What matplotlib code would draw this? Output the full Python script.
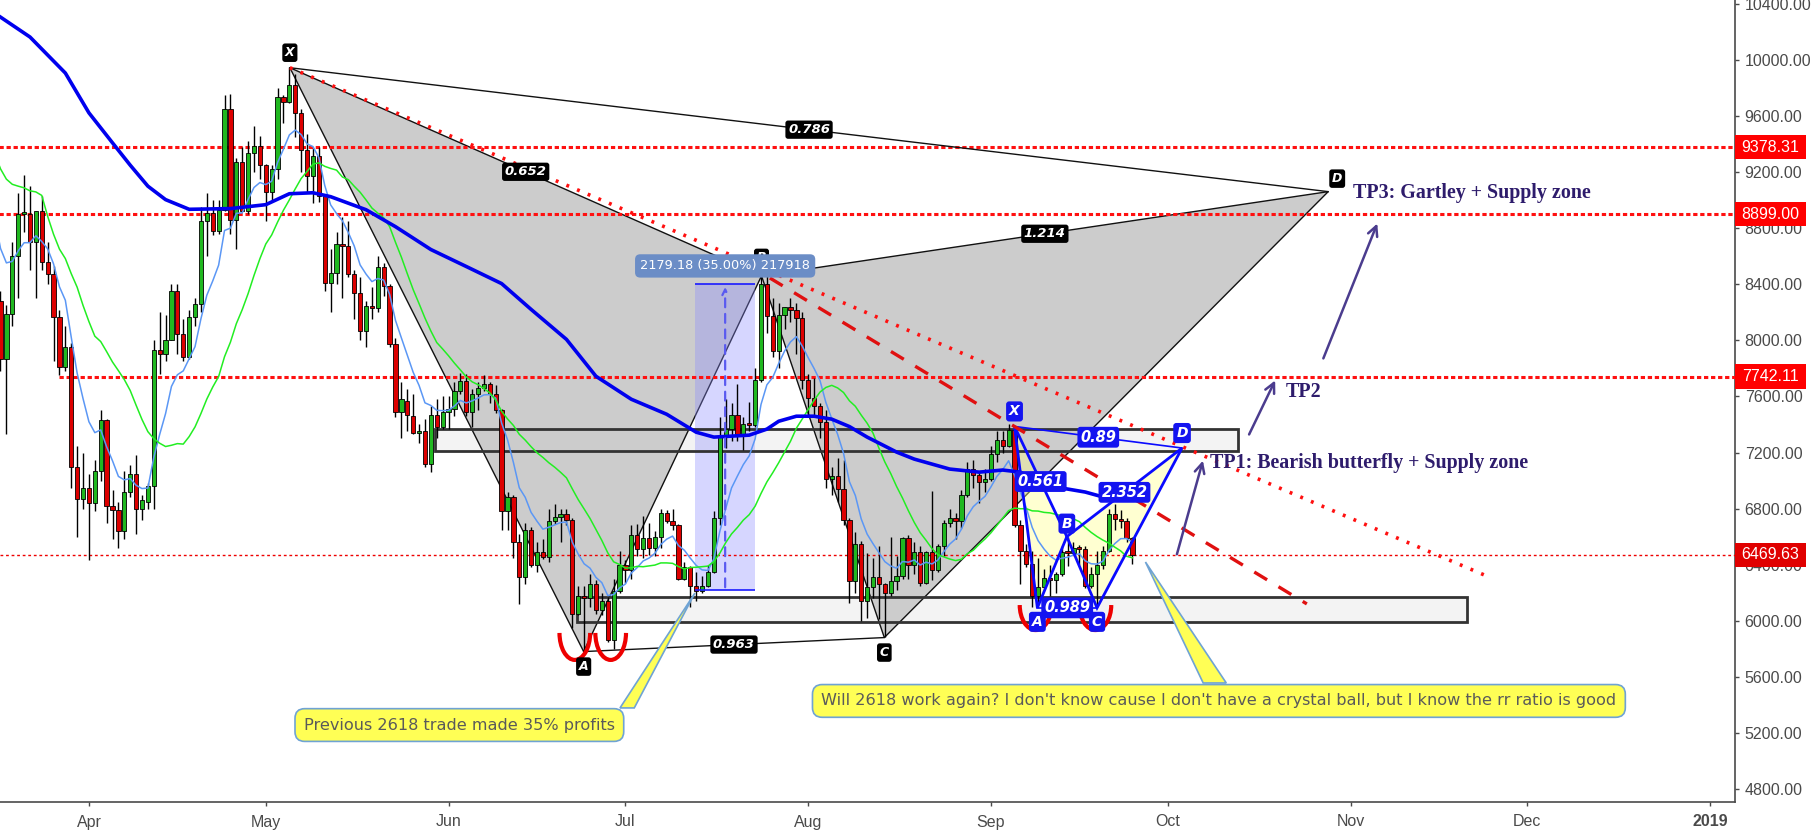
import matplotlib
matplotlib.use("Agg")
import matplotlib.pyplot as plt
import matplotlib.dates as mdates
import matplotlib.transforms as mtransforms
from matplotlib.patches import Polygon, Rectangle, Arc
import pandas as pd

# daily BTCUSD candles 2018-03-05 .. 2018-09-25
# (first days sit left of the visible window, they only feed the averages)
open_ = [
    11500, 11450, 10730, 9930, 9300, 9250, 8800, 9550, 9150, 9150, 8200, 8250, 8280, 7870,
    8190, 8600, 8900, 8900, 8700, 8920, 8560, 8470, 8170, 7810, 7950, 7100, 6870,
    # apr
    6950, 6840, 7070, 7430, 6820, 6790, 6640, 6920, 7045, 6800, 6850, 6960, 7930, 7900, 8000,
    8350, 8045, 7880, 8170, 8260, 8850, 8910, 8780, 8930, 9650, 8860, 9275, 8920, 9340, 9390,
    # may
    9250, 9060, 9220, 9735, 9700, 9820, 9620, 9355, 9170, 9315, 9030, 8410, 8480, 8690, 8670,
    8475, 8340, 8065, 8245, 8230, 8520, 8390, 7975, 7490, 7570, 7460, 7340, 7350, 7120, 7470, 7380,
    # jun
    7490, 7510, 7640, 7710, 7490, 7620, 7660, 7690, 7620, 7500, 6785, 6880, 6560, 6315, 6645,
    6395, 6490, 6455, 6715, 6740, 6760, 6720, 6050, 6180, 6165, 6265, 6080, 6140, 5860, 6210,
    # jul
    6400, 6360, 6615, 6515, 6590, 6520, 6600, 6765, 6715, 6680, 6300, 6385, 6250, 6215, 6250,
    6345, 6730, 7310, 7370, 7470, 7330, 7400, 7395, 7720, 8404, 8173, 7925, 8180, 8235, 8215, 8160,
    # aug
    7720, 7590, 7530, 7415, 7010, 7030, 6940, 6720, 6283, 6550, 6140, 6240, 6310, 6260, 6200,
    6280, 6320, 6590, 6400, 6490, 6270, 6490, 6360, 6530, 6700, 6735, 6715, 6900, 7080, 7040, 6990,
    # sep
    7010, 7190, 7290, 7250, 7360, 6680, 6500, 6405, 6180, 6240, 6305, 6290, 6330, 6490, 6480,
    6527, 6510, 6250, 6335, 6395, 6500, 6760, 6725, 6710, 6590,
]
high = [
    11700, 11460, 10900, 10100, 9400, 9500, 9750, 9900, 9500, 9350, 8400, 8600, 8350, 8250,
    8700, 9050, 9180, 9100, 8920, 9030, 8700, 8530, 8220, 8100, 7980, 7250, 7200,
    7050, 7150, 7500, 7440, 6930, 6850, 7070, 7110, 7180, 6900, 6980, 8000, 8200, 8180, 8400,
    8400, 8150, 8220, 8300, 8950, 9050, 9000, 9000, 9750, 9760, 9300, 9380, 9420, 9530, 9460,
    9260, 9250, 9800, 9750, 9950, 9900, 9650, 9470, 9370, 9380, 9040, 8650, 8770, 8880, 8850,
    8500, 8450, 8280, 8380, 8600, 8550, 8400, 8020, 7700, 7650, 7620, 7400, 7440, 7530, 7580, 7600,
    7600, 7700, 7770, 7760, 7650, 7700, 7750, 7700, 7680, 7510, 6920, 6900, 6620, 6700, 6670,
    6560, 6580, 6800, 6830, 6800, 6800, 6730, 6250, 6250, 6330, 6290, 6200, 6170, 6300, 6500,
    6430, 6680, 6690, 6750, 6700, 6640, 6800, 6790, 6800, 6690, 6420, 6390, 6350, 6320, 6400,
    6780, 7450, 7580, 7550, 7690, 7450, 7560, 7800, 8460, 8480, 8300, 8270, 8240, 8300, 8270, 8200,
    7760, 7730, 7550, 7500, 7100, 7160, 7150, 6730, 6630, 6570, 6480, 6450, 6530, 6270, 6600,
    6460, 6600, 6610, 6560, 6530, 6500, 6925, 6550, 6720, 6800, 6770, 6930, 7130, 7150, 7060, 7080,
    7250, 7350, 7350, 7400, 7390, 6720, 6550, 6500, 6450, 6370, 6400, 6350, 6530, 6600, 6560,
    6540, 6530, 6380, 6500, 6530, 6800, 6830, 6790, 6730, 6600,
]
low = [
    11380, 10600, 9480, 9050, 8350, 8700, 8500, 8800, 8850, 8000, 7700, 8000, 7780, 7330,
    8100, 8300, 8770, 8500, 8300, 8500, 8400, 7850, 7750, 7780, 6950, 6600, 6800,
    6430, 6780, 7000, 6700, 6580, 6520, 6580, 6880, 6620, 6720, 6800, 6800, 7760, 7850, 8000,
    7900, 7850, 7870, 8100, 8200, 8600, 8750, 8760, 8920, 8760, 8650, 8920, 8900, 9200, 9150,
    8850, 9000, 9150, 9550, 9690, 9450, 9200, 9050, 8980, 8990, 8350, 8200, 8400, 8300, 8450,
    8150, 8000, 7950, 8150, 8200, 8320, 7950, 7450, 7300, 7350, 7330, 7270, 7100, 7060, 7300, 7370,
    7370, 7460, 7620, 7460, 7380, 7500, 7640, 7550, 7480, 6650, 6650, 6450, 6120, 6260, 6380,
    6350, 6440, 6420, 6690, 6560, 6680, 5950, 6040, 5780, 6100, 6050, 6040, 5850, 5800, 6200,
    6270, 6300, 6460, 6450, 6470, 6460, 6520, 6700, 6650, 6290, 6290, 6100, 6140, 6200, 6240,
    6340, 6680, 7230, 7280, 7280, 7220, 7350, 7380, 7700, 8050, 7880, 7800, 8080, 8130, 7900, 7650,
    7460, 7470, 7300, 6950, 6900, 6850, 6680, 6130, 6200, 6000, 6020, 6160, 6010, 5885, 6180,
    6220, 6300, 6300, 6330, 6250, 6260, 6290, 6350, 6460, 6670, 6580, 6660, 6880, 6950, 6840, 6920,
    7000, 7130, 7200, 7240, 6670, 6260, 6380, 6100, 6130, 6230, 6180, 6200, 6320, 6390, 6470,
    6400, 6230, 6230, 6100, 6370, 6490, 6650, 6660, 6560, 6405,
]
close_ = [
    11450, 10730, 9930, 9300, 9250, 8800, 9550, 9150, 9150, 8200, 8250, 8280, 7870, 8190,
    8600, 8900, 8900, 8700, 8920, 8560, 8470, 8170, 7810, 7950, 7100, 6870, 6950,
    6840, 7070, 7430, 6820, 6790, 6640, 6920, 7045, 6800, 6860, 6960, 7930, 7900, 8000, 8350,
    8045, 7880, 8170, 8260, 8850, 8910, 8780, 8930, 9650, 8860, 9275, 8920, 9340, 9390, 9250,
    9060, 9220, 9735, 9700, 9820, 9620, 9355, 9170, 9315, 9030, 8410, 8480, 8690, 8670, 8475,
    8340, 8065, 8245, 8230, 8520, 8390, 7975, 7490, 7580, 7470, 7340, 7350, 7120, 7470, 7380, 7490,
    7510, 7640, 7710, 7490, 7620, 7660, 7690, 7620, 7500, 6785, 6880, 6560, 6315, 6645, 6395,
    6490, 6455, 6715, 6740, 6760, 6720, 6050, 6180, 6165, 6265, 6080, 6140, 5860, 6210, 6400,
    6360, 6615, 6515, 6590, 6520, 6600, 6765, 6715, 6680, 6300, 6385, 6250, 6215, 6250, 6345,
    6730, 7310, 7370, 7470, 7330, 7400, 7395, 7720, 8404, 8173, 7925, 8180, 8235, 8215, 8160, 7720,
    7590, 7530, 7415, 7010, 7030, 6940, 6720, 6283, 6550, 6140, 6240, 6310, 6260, 6200, 6280,
    6320, 6590, 6400, 6490, 6270, 6490, 6360, 6530, 6700, 6735, 6715, 6900, 7080, 7040, 6990, 7010,
    7190, 7290, 7250, 7360, 6680, 6500, 6405, 6180, 6240, 6305, 6290, 6330, 6490, 6480, 6520,
    6510, 6250, 6335, 6395, 6500, 6760, 6725, 6710, 6590, 6469.63,
]

# slow moving average
slow_ma_dates = ["2018-03-17", "2018-03-22", "2018-03-28", "2018-04-01", "2018-04-05", "2018-04-08",
                 "2018-04-11", "2018-04-14", "2018-04-18", "2018-04-25", "2018-05-01", "2018-05-05",
                 "2018-05-09", "2018-05-12", "2018-05-18", "2018-05-23", "2018-05-29", "2018-06-04",
                 "2018-06-10", "2018-06-15", "2018-06-21", "2018-06-26", "2018-07-02", "2018-07-08",
                 "2018-07-13", "2018-07-16", "2018-07-22", "2018-07-25", "2018-07-27", "2018-07-30",
                 "2018-08-02", "2018-08-05", "2018-08-08", "2018-08-11", "2018-08-14", "2018-08-16",
                 "2018-08-19", "2018-08-25", "2018-08-30", "2018-09-03", "2018-09-06", "2018-09-08",
                 "2018-09-11", "2018-09-17", "2018-09-20", "2018-09-25"]
slow_ma_vals = [10306, 10164, 9907, 9623, 9409, 9250, 9100, 9004, 8935, 8940, 8968, 9046,
                9053, 9025, 8932, 8811, 8648, 8527, 8405, 8221, 8007, 7744, 7580, 7473,
                7345, 7310, 7324, 7367, 7423, 7459, 7459, 7438, 7385, 7310, 7246, 7203,
                7153, 7082, 7060, 7075, 7060, 7011, 6961, 6918, 6883, 6868]

levels = [9378.31, 8899.00, 7742.11]
level_starts = ["2018-03-10", "2018-03-10", "2018-03-27"]
last_price = 6469.63

# gartley (black) and butterfly (blue) pivots
g_names = ["X", "A", "B", "C", "D"]
g_dates = ["2018-05-05 02:00", "2018-06-23 22:00", "2018-07-24 02:00", "2018-08-13 22:00", "2018-10-28 05:00"]
g_prices = [9945, 5780, 8460, 5880, 9061]
g_ratios = [("X", "B", "0.652"), ("A", "C", "0.963"), ("B", "D", "1.214"), ("X", "D", "0.786")]
b_dates = ["2018-09-05 00:00", "2018-09-08 21:00", "2018-09-13 21:00", "2018-09-19 00:00", "2018-10-03 10:00"]
b_prices = [7386, 6092, 6600, 6092, 7232]
b_ratios = [("X", "B", "0.561"), ("A", "C", "0.989"), ("B", "D", "2.352"), ("X", "D", "0.89")]

fig = plt.figure(figsize=(18.14, 8.35), dpi=100)
ax = fig.add_axes([0, 33 / 835, 1735 / 1814, 802 / 835])
d = mdates.datestr2num

xs = mdates.date2num(pd.date_range("2018-03-05", periods=len(close_), freq="D"))
cs = pd.Series(close_)
ma_fast = cs.ewm(span=8, adjust=False).mean()
ma_20 = cs.rolling(20, min_periods=1).mean()

# candles
cols = ["#20b820" if c >= o else "#dd0000" for o, c in zip(open_, close_)]
ax.vlines(xs, low, high, color="black", lw=1, zorder=3)
ax.bar(xs, [max(abs(c - o), 14) for o, c in zip(open_, close_)],
       bottom=[min(o, c) for o, c in zip(open_, close_)],
       width=0.72, color=cols, edgecolor="black", lw=0.6, zorder=3.1)

ax.plot(xs, ma_fast, color="#5b97f5", lw=1.1, zorder=4)
ax.plot(xs, ma_20, color="#22ee22", lw=1.1, zorder=4)
ax.plot(d(slow_ma_dates), slow_ma_vals, color="#0000ee", lw=2.6, zorder=4.1)

view_lo, view_hi = d("2018-03-16 22:00"), d("2019-01-05 05:00")

# horizontal targets and last price
for lv, st in zip(levels, level_starts):
    ax.hlines(lv, d(st), view_hi, color="#ff1010", lw=2.2, ls=(0, (1.4, 0.9)), zorder=2.6)
ax.axhline(last_price, color="#ee0000", lw=1, ls=(0, (2, 2)), zorder=2.6)

# supply / demand boxes
for x0, x1, y0, y1 in [("2018-05-29 16:00", "2018-10-12 22:00", 7211, 7368),
                       ("2018-06-22 17:00", "2018-11-20 20:00", 5989, 6172)]:
    ax.add_patch(Rectangle((d(x0), y0), d(x1) - d(x0), y1 - y0, fc="#f3f3f3", ec="none", zorder=0.5))
    ax.add_patch(Rectangle((d(x0), y0), d(x1) - d(x0), y1 - y0, fc="none", ec="#333333", lw=2, zorder=2.2))

# gartley
gx = d(g_dates)
gp = dict(zip(g_names, zip(gx, g_prices)))
for tri in (["X", "A", "B"], ["B", "C", "D"]):
    ax.add_patch(Polygon([gp[k] for k in tri], closed=True, fc="#cccccc", ec="#111111", lw=1, zorder=1))
for a, b in [("X", "D"), ("A", "C")]:
    ax.plot([gp[a][0], gp[b][0]], [gp[a][1], gp[b][1]], color="#111111", lw=1, zorder=5)
for a, b, t in g_ratios:
    ax.text((gp[a][0] + gp[b][0]) / 2, (gp[a][1] + gp[b][1]) / 2, t, color="white", fontsize=9.5,
            fontweight="bold", fontstyle="italic", ha="center", va="center", zorder=7,
            bbox=dict(boxstyle="round,pad=0.2", fc="black", ec="none"))
g_off = {"X": (0, 15), "A": (0, -15), "B": (0, 18), "C": (0, -15), "D": (9, 13)}
for k in g_names:
    ax.annotate(k, gp[k], xytext=g_off[k], textcoords="offset pixels", color="white", fontsize=9,
                fontweight="bold", fontstyle="italic", ha="center", va="center", zorder=7,
                bbox=dict(boxstyle="round,pad=0.22", fc="black", ec="none"))

# butterfly
bx = d(b_dates)
bp = dict(zip(g_names, zip(bx, b_prices)))
for tri in (["X", "A", "B"], ["B", "C", "D"]):
    ax.add_patch(Polygon([bp[k] for k in tri], closed=True, fc=(1, 1, 0.55), alpha=0.4, ec="none", zorder=1.9))
    ax.add_patch(Polygon([bp[k] for k in tri], closed=True, fc="none", ec="#0a0aff", lw=2, zorder=5))
for a, b in [("X", "D"), ("A", "C")]:
    ax.plot([bp[a][0], bp[b][0]], [bp[a][1], bp[b][1]], color="#0a0aff", lw=1.2, zorder=5)
for a, b, t in b_ratios:
    ax.text((bp[a][0] + bp[b][0]) / 2, (bp[a][1] + bp[b][1]) / 2, t, color="white", fontsize=10.5,
            fontweight="bold", fontstyle="italic", ha="center", va="center", zorder=7,
            bbox=dict(boxstyle="round,pad=0.2", fc="#1414f0", ec="none"))
b_off = {"X": (0, 15), "A": (0, -14), "B": (0, 13), "C": (0, -14), "D": (0, 15)}
for k in g_names:
    ax.annotate(k, bp[k], xytext=b_off[k], textcoords="offset pixels", color="white", fontsize=10,
                fontweight="bold", fontstyle="italic", ha="center", va="center", zorder=7,
                bbox=dict(boxstyle="round,pad=0.22", fc="#1414f0", ec="none"))

# trend lines
ax.plot([gp["X"][0], d("2018-11-23 17:00")], [gp["X"][1], 6326], color="#ff1010", lw=2.6,
        ls=(0, (0.8, 2.4)), zorder=5.2)
ax.plot([d("2018-07-25 12:00"), d("2018-10-24 14:00")], [8445, 6120], color="#e01010", lw=2.4,
        ls=(0, (4.5, 4)), zorder=5.2)

# double bottoms
for cx, cy, w, h in [("2018-06-22 10:00", 5913, 5.2, 385), ("2018-06-28 12:00", 5913, 5.2, 385),
                     ("2018-09-08 14:00", 6112, 5.4, 357), ("2018-09-18 17:00", 6112, 5.4, 357)]:
    ax.add_patch(Arc((d(cx), cy), w, h, theta1=180, theta2=360, color="#ee0000", lw=3, zorder=6))

# measured move of the previous trade
m0, m1, mlo, mhi = d("2018-07-12 19:00"), d("2018-07-23 00:00"), 6219, 8400
ax.add_patch(Rectangle((m0, mlo), m1 - m0, mhi - mlo, fc=(0.55, 0.55, 1.0), alpha=0.35, ec="none", zorder=1.8))
ax.hlines([mlo, mhi], m0, m1, color="#1a1aff", lw=1.2, zorder=5)
mc = d("2018-07-17 22:00")
ax.annotate("", xy=(mc, mhi), xytext=(mc, mlo),
            arrowprops=dict(arrowstyle="->", color="#5a5af0", lw=1.6, ls=(0, (4, 3))), zorder=5)
ax.text(mc, 8531, "2179.18 (35.00%) 217918", color="white", fontsize=9.3, ha="center", va="center",
        zorder=8, bbox=dict(boxstyle="round,pad=0.4", fc="#6b8dc6", ec="none"))

# targets
arrows = [(("2018-10-02 10:00", 6455), ("2018-10-07 02:00", 7161)),
          (("2018-10-14 14:00", 7311), ("2018-10-19 10:00", 7732)),
          (("2018-10-27 05:00", 7853), ("2018-11-05 17:00", 8852))]
for (s, sy), (e, ey) in arrows:
    ax.annotate("", xy=(d(e), ey), xytext=(d(s), sy),
                arrowprops=dict(arrowstyle="->,head_length=0.7,head_width=0.35", color="#4b3c8e", lw=1.8),
                zorder=6)
tp_font = dict(family=["Liberation Serif"], fontweight="bold", fontsize=14.4, color="#2e1c6c", zorder=7)
ax.text(d("2018-10-08 04:00"), 7125, "TP1: Bearish butterfly + Supply zone", va="center", **tp_font)
ax.text(d("2018-10-20 22:00"), 7632, "TP2", va="center", **tp_font)
ax.text(d("2018-11-01 10:00"), 9051, "TP3: Gartley + Supply zone", va="center", **tp_font)

# call-outs
notes = [("Previous 2618 trade made 35% profits", ("2018-06-02 20:00", 5256),
          [("2018-06-30 02:00", 5378), ("2018-07-02 12:00", 5378), ("2018-07-12 19:00", 6198)]),
         ("Will 2618 work again? I don't know cause I don't have a crystal ball, but I know the rr ratio is good",
          ("2018-10-09 16:00", 5428),
          [("2018-10-07 00:00", 5556), ("2018-10-10 22:00", 5556), ("2018-09-27 05:00", 6419)])]
for txt, (cx, cy), tail in notes:
    ax.add_patch(Polygon([(d(t), p) for t, p in tail], closed=True, fc="#ffff55", ec="#6fa3d4", lw=1.2, zorder=8))
    ax.text(d(cx), cy, txt, color="#5a5a5a", fontsize=11.6, ha="center", va="center", zorder=9,
            bbox=dict(boxstyle="round,pad=0.55,rounding_size=0.6", fc="#ffff55", ec="#6fa3d4", lw=1.2))

# axes
ax.set_xlim(view_lo, view_hi)
ax.set_ylim(4707, 10428)
ax.yaxis.tick_right()
ax.set_yticks(range(4800, 10401, 400))
ax.set_yticklabels([f"{v:.2f}" for v in range(4800, 10401, 400)])
month_ticks = ["2018-04-01", "2018-05-01", "2018-06-01", "2018-07-01", "2018-08-01", "2018-09-01",
               "2018-10-01", "2018-11-01", "2018-12-01", "2019-01-01"]
month_labels = ["Apr", "May", "Jun", "Jul", "Aug", "Sep", "Oct", "Nov", "Dec", "2019"]
ax.set_xticks(d(month_ticks))
ax.set_xticklabels(month_labels)
ax.get_xticklabels()[-1].set_fontweight("bold")
for lab in ax.get_xticklabels() + ax.get_yticklabels():
    lab.set_family(["Liberation Sans"])
    lab.set_fontsize(11.5)
    lab.set_color("#4a4a4a")
ax.tick_params(axis="both", length=3, width=1, color="#4a4a4a", pad=4)
ax.tick_params(axis="x", pad=6)
for side in ("top", "left"):
    ax.spines[side].set_visible(False)
for side in ("right", "bottom"):
    ax.spines[side].set_color("#4a4a4a")
    ax.spines[side].set_linewidth(1.2)

# price flags on the scale
flag = mtransforms.blended_transform_factory(ax.transAxes, ax.transData)
for lv, fc in [(9378.31, "#ff0000"), (8899.00, "#ff0000"), (7742.11, "#ff0000"), (last_price, "#e00000")]:
    ax.add_patch(Rectangle((1.0, lv - 86), 71 / 1735, 172, transform=flag, fc=fc, ec="none",
                           clip_on=False, zorder=10))
    ax.text(1.0 + 35 / 1735, lv, f"{lv:.2f}", transform=flag, color="white", fontsize=11.5,
            family=["Liberation Sans"], ha="center", va="center", zorder=11, clip_on=False)

fig.savefig("out.png", dpi=100)
